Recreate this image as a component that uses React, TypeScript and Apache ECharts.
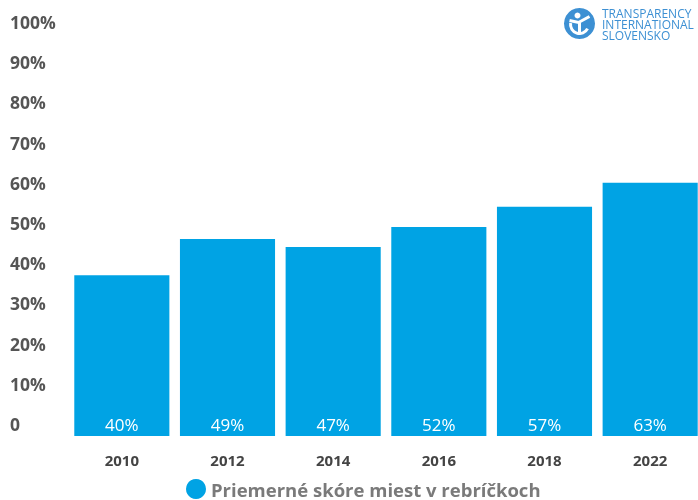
import React, { useEffect, useRef } from "react";
import * as echarts from "echarts";

const years = ["2010", "2012", "2014", "2016", "2018", "2022"];
const scores = [40, 49, 47, 52, 57, 63];
const seriesName = "Priemerné skóre miest v rebríčkoch";
const logoLines = ["TRANSPARENCY", "INTERNATIONAL", "SLOVENSKO"];

const BLUE = "#00a3e4";
const FONT = "'Open Sans', 'Noto Sans', sans-serif";

export default function App() {
  const ref = useRef<HTMLDivElement>(null);
  useEffect(() => {
    if (!ref.current) return;
    const chart = echarts.init(ref.current, null, { renderer: "svg" });
    chart.setOption({
      animation: false,
      textStyle: { fontFamily: FONT },
      grid: { left: 69, right: 7, top: 34, bottom: 64, containLabel: false },
      legend: {
        data: [seriesName],
        left: 186,
        top: 479,
        padding: 0,
        icon: "circle",
        itemWidth: 20,
        itemHeight: 20,
        itemGap: 10,
        textStyle: {
          fontFamily: FONT,
          fontSize: 18.5,
          lineHeight: 20,
          fontWeight: "bold",
          color: "#7a7a7a",
        },
      },
      xAxis: {
        type: "category",
        data: years,
        axisLine: { show: false },
        axisTick: { show: false },
        axisLabel: {
          margin: 16,
          fontFamily: FONT,
          fontSize: 15,
          fontWeight: "bold",
          color: "#444",
        },
      },
      yAxis: {
        type: "value",
        min: 0,
        max: 100,
        interval: 10,
        splitLine: { show: false },
        axisLine: { show: false },
        axisTick: { show: false },
        axisLabel: {
          align: "left",
          margin: 59,
          verticalAlign: "bottom",
          lineHeight: 24,
          fontFamily: FONT,
          fontSize: 17.5,
          fontWeight: "bold",
          color: "#555",
          formatter: (v: number) => (v === 0 ? "0" : v + "%"),
        },
      },
      series: [
        {
          name: seriesName,
          type: "bar",
          data: scores,
          barCategoryGap: "10%",
          itemStyle: { color: BLUE },
          label: {
            show: true,
            position: "insideBottom",
            distance: 3,
            formatter: "{c}%",
            color: "#fff",
            fontFamily: FONT,
            fontSize: 17,
          },
        },
      ],
      graphic: [
        {
          type: "group",
          left: 564,
          top: 8,
          children: [
            { type: "circle", shape: { cx: 15, cy: 16, r: 15.5 }, style: { fill: "#3d90d3" } },
            {
              type: "arc",
              shape: { cx: 15, cy: 17, r: 9, startAngle: Math.PI * 0.15, endAngle: Math.PI * 1.05 },
              style: { stroke: "#fff", lineWidth: 3, fill: "none" },
            },
            { type: "circle", shape: { cx: 13, cy: 8, r: 3 }, style: { fill: "#fff" } },
            {
              type: "polyline",
              shape: { points: [[5, 13], [14, 15], [25, 9]] },
              style: { stroke: "#fff", lineWidth: 3, fill: "none" },
            },
            {
              type: "line",
              shape: { x1: 15, y1: 15, x2: 15, y2: 27 },
              style: { stroke: "#fff", lineWidth: 3 },
            },
          ],
        },
        ...logoLines.map((t, i) => ({
          type: "text",
          left: 602,
          top: 7 + i * 11,
          style: {
            text: t,
            fill: "#3d90d3",
            fontFamily: FONT,
            fontSize: 12,
            lineHeight: 11,
          },
        })),
      ],
    });
    return () => chart.dispose();
  }, []);
  return (
    <div
      style={{
        position: "fixed",
        left: 0,
        top: 0,
        width: 698,
        height: 500,
        overflow: "hidden",
      }}
    >
      <div ref={ref} style={{ width: 710, height: 500 }} />
    </div>
  );
}
